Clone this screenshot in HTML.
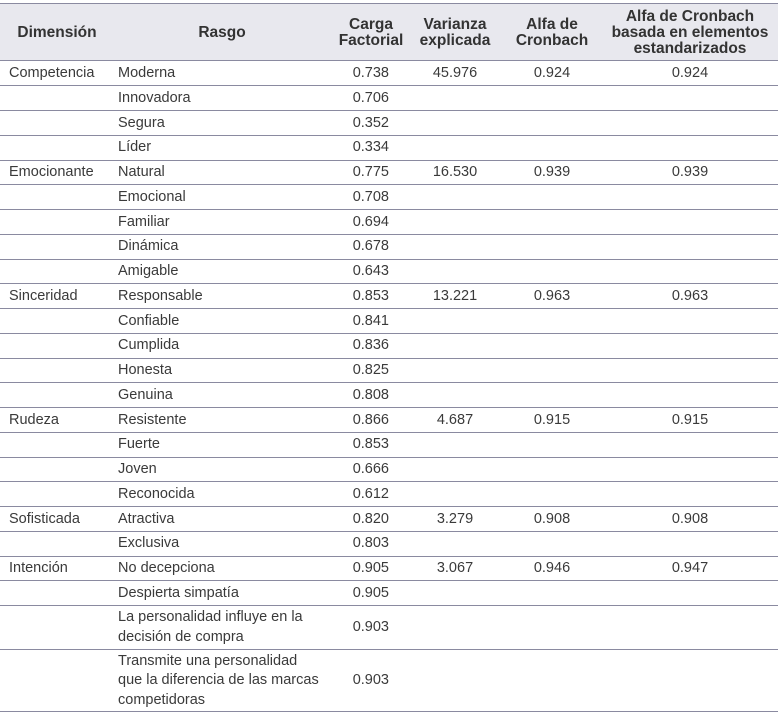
<!DOCTYPE html>
<html><head><meta charset="utf-8"><style>
body{margin:0;width:780px;height:716px;background:#fff;font-family:"Liberation Sans",sans-serif;color:#3a3a3a;position:relative;overflow:hidden}
.h{position:absolute;top:3px;left:0;width:778px;height:58px;background:#e8e8ee;border-top:1.5px solid #8a8aa0;border-bottom:1.5px solid #8a8aa0;box-sizing:border-box}
.t{position:absolute;font-size:14.5px;white-space:nowrap;line-height:19.5px}
.hd{position:absolute;font-weight:bold;font-size:15.5px;text-align:center;line-height:16px;color:#333}
.l{position:absolute;left:0;width:778px;height:0;border-top:1px solid #8a8aa0}
</style></head><body>
<div class="h"></div>
<div class="hd" style="left:0;width:114px;top:25px">Dimensión</div>
<div class="hd" style="left:114px;width:216px;top:25px">Rasgo</div>
<div class="hd" style="left:330px;width:82px;top:17px">Carga<br>Factorial</div>
<div class="hd" style="left:410px;width:90px;top:17px">Varianza<br>explicada</div>
<div class="hd" style="left:500px;width:104px;top:17px">Alfa de<br>Cronbach</div>
<div class="hd" style="left:600px;width:180px;top:9px">Alfa de Cronbach<br>basada en elementos<br>estandarizados</div>
<div id="c"></div>
<script>
var R=[
["Competencia","Moderna","0.738","45.976","0.924","0.924"],["","Innovadora","0.706"],["","Segura","0.352"],["","Líder","0.334"],
["Emocionante","Natural","0.775","16.530","0.939","0.939"],["","Emocional","0.708"],["","Familiar","0.694"],["","Dinámica","0.678"],["","Amigable","0.643"],
["Sinceridad","Responsable","0.853","13.221","0.963","0.963"],["","Confiable","0.841"],["","Cumplida","0.836"],["","Honesta","0.825"],["","Genuina","0.808"],
["Rudeza","Resistente","0.866","4.687","0.915","0.915"],["","Fuerte","0.853"],["","Joven","0.666"],["","Reconocida","0.612"],
["Sofisticada","Atractiva","0.820","3.279","0.908","0.908"],["","Exclusiva","0.803"],
["Intención","No decepciona","0.905","3.067","0.946","0.947"],["","Despierta simpatía","0.905"],
["","La personalidad influye en la<br>decisión de compra","0.903",null,null,null,2],
["","Transmite una personalidad<br>que la diferencia de las marcas<br>competidoras","0.903",null,null,null,3]];
var y=61,h="";
R.forEach(function(r){
 var n=r[6]||1,H=n==1?24.75:(n==2?43.5:62.5);
 var ty=y+(H-19.5)/2+0.5;
 h+='<div class="t" style="left:9px;top:'+ty+'px">'+r[0]+'</div>';
 var ry=y+(H-n*19.5)/2+0.5;
 h+='<div class="t" style="left:118px;top:'+ry+'px">'+r[1]+'</div>';
 h+='<div class="t" style="left:330px;width:59px;text-align:right;top:'+ty+'px">'+r[2]+'</div>';
 if(r[3]){
 h+='<div class="t" style="left:412px;width:86px;text-align:center;top:'+ty+'px">'+r[3]+'</div>';
 h+='<div class="t" style="left:500px;width:104px;text-align:center;top:'+ty+'px">'+r[4]+'</div>';
 h+='<div class="t" style="left:604px;width:172px;text-align:center;top:'+ty+'px">'+r[5]+'</div>';}
 y+=H;
 h+='<div class="l" style="top:'+(y-0.5)+'px'+(y>700?';border-top-width:1.5px':'')+'"></div>';
});
document.getElementById("c").innerHTML=h;
</script>
</body></html>
